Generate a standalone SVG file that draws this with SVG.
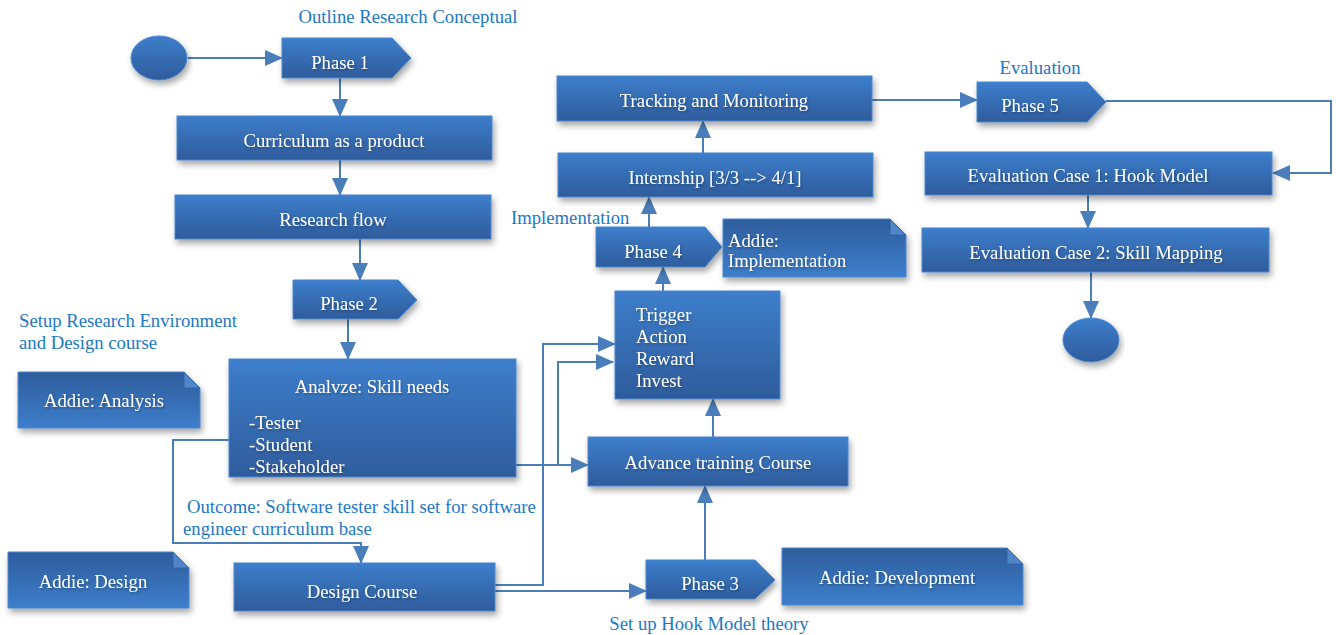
<svg xmlns="http://www.w3.org/2000/svg" width="1336" height="635" viewBox="0 0 1336 635">
<defs>
<linearGradient id="gBox" x1="0" y1="0" x2="0" y2="1">
<stop offset="0" stop-color="#3d7ecb"/>
<stop offset="1" stop-color="#2e5c9c"/>
</linearGradient>
<linearGradient id="gNote" x1="0" y1="0" x2="0" y2="1">
<stop offset="0" stop-color="#2e5d9d"/>
<stop offset="1" stop-color="#3d7ecb"/>
</linearGradient>
<filter id="sh" x="-10%" y="-20%" width="120%" height="160%">
<feDropShadow dx="2" dy="4" stdDeviation="3" flood-color="#000" flood-opacity="0.35"/>
</filter>
<filter id="tsh" x="-5%" y="-20%" width="110%" height="160%">
<feDropShadow dx="1" dy="1.5" stdDeviation="1" flood-color="#000" flood-opacity="0.3"/>
</filter>
<marker id="ah" markerUnits="userSpaceOnUse" markerWidth="18" markerHeight="18" viewBox="0 0 18 18" refX="17" refY="9" orient="auto">
<path d="M0,1 L18,9 L0,17 Z" fill="#4a7ebb"/>
</marker>
</defs>
<style>
.box{fill:url(#gBox);stroke:#4a86cf;stroke-width:1;filter:url(#sh)}
.note{fill:url(#gNote);stroke:#4a86cf;stroke-width:1;filter:url(#sh)}
.fold{fill:#4f86c9;stroke:#2e5d9d;stroke-width:0.8}
.t{font-family:"Liberation Serif","Times New Roman",serif;font-size:18.7px;fill:#ffffff;filter:url(#tsh)}
.c{text-anchor:middle}
.lbl{font-family:"Liberation Serif","Times New Roman",serif;font-size:18.7px;fill:#1b78c6}
.ln{fill:none;stroke:#4a7ebb;stroke-width:2}
.la{fill:none;stroke:#4a7ebb;stroke-width:2;marker-end:url(#ah)}
</style>

<g id="labels">
<text class="lbl c" x="408" y="23">Outline Research Conceptual</text>
<text class="lbl" x="19" y="327">Setup Research Environment</text>
<text class="lbl" x="19" y="349">and Design course</text>
<text class="lbl" x="187" y="513">Outcome: Software tester skill set for software</text>
<text class="lbl" x="183" y="535">engineer curriculum base</text>
<text class="lbl" x="511" y="224">Implementation</text>
<text class="lbl c" x="1040" y="74">Evaluation</text>
<text class="lbl c" x="709" y="630">Set up Hook Model theory</text>
</g>

<g id="connectors">
<line class="la" x1="188" y1="58" x2="282" y2="58"/>
<line class="la" x1="340" y1="78" x2="340" y2="116"/>
<line class="la" x1="340" y1="160" x2="340" y2="195"/>
<line class="la" x1="360" y1="239" x2="360" y2="280"/>
<line class="la" x1="348" y1="319" x2="348" y2="359"/>
<polyline class="la" points="229,440 173,440 173,543 361,543 361,563"/>
<polyline class="la" points="495,585 543,585 543,344 615,344"/>
<line class="la" x1="495" y1="591" x2="646" y2="591"/>
<line class="la" x1="516" y1="465" x2="588" y2="465"/>
<polyline class="la" points="558,465 558,362 613,362"/>
<line class="la" x1="705" y1="560" x2="705" y2="486"/>
<line class="la" x1="713" y1="437" x2="713" y2="399"/>
<line class="la" x1="663" y1="291" x2="663" y2="267"/>
<line class="la" x1="649" y1="227" x2="649" y2="197"/>
<line class="la" x1="703" y1="153" x2="703" y2="121"/>
<line class="la" x1="872" y1="100" x2="977" y2="100"/>
<polyline class="la" points="1106,101 1331,101 1331,173 1273,173"/>
<line class="la" x1="1088" y1="195" x2="1088" y2="228"/>
<line class="la" x1="1091" y1="272" x2="1091" y2="318"/>
</g>

<g id="start"><ellipse class="box" cx="159" cy="58" rx="28" ry="22"/></g>
<g id="phase1"><path class="box" d="M282,38 H392 L411,58 L392,78 H282 Z"/><text class="t c" x="340" y="69">Phase 1</text></g>
<g id="curriculum"><rect class="box" x="177" y="116" width="315" height="44"/><text class="t c" x="334" y="147">Curriculum as a product</text></g>
<g id="research-flow"><rect class="box" x="175" y="195" width="316" height="44"/><text class="t c" x="333" y="226">Research flow</text></g>
<g id="phase2"><path class="box" d="M293,280 H398 L417,300 L398,319 H293 Z"/><text class="t c" x="349" y="310">Phase 2</text></g>
<g id="addie-analysis"><path class="note" d="M18,372 H184 L200,388 V428 H18 Z"/><path class="fold" d="M184,372 L200,388 H184 Z"/><text class="t c" x="104" y="407">Addie: Analysis</text></g>
<g id="analyze"><rect class="box" x="229" y="359" width="287" height="118"/>
<text class="t c" x="372" y="393">Analvze: Skill needs</text>
<text class="t" x="249" y="429">-Tester</text>
<text class="t" x="249" y="451">-Student</text>
<text class="t" x="249" y="473">-Stakeholder</text></g>
<g id="addie-design"><path class="note" d="M8,552 H173 L189,568 V608 H8 Z"/><path class="fold" d="M173,552 L189,568 H173 Z"/><text class="t c" x="93" y="588">Addie: Design</text></g>
<g id="design-course"><rect class="box" x="234" y="563" width="261" height="48"/><text class="t c" x="362" y="598">Design Course</text></g>
<g id="phase3"><path class="box" d="M646,560 H755 L775,580 L755,599 H646 Z"/><text class="t c" x="710" y="590">Phase 3</text></g>
<g id="addie-development"><path class="note" d="M782,548 H1007 L1023,564 V605 H782 Z"/><path class="fold" d="M1007,548 L1023,564 H1007 Z"/><text class="t c" x="897" y="584">Addie: Development</text></g>
<g id="advance-training"><rect class="box" x="588" y="437" width="260" height="49"/><text class="t c" x="718" y="469">Advance training Course</text></g>
<g id="hook"><rect class="box" x="615" y="291" width="165" height="108"/>
<text class="t" x="636" y="321">Trigger</text>
<text class="t" x="636" y="343">Action</text>
<text class="t" x="636" y="365">Reward</text>
<text class="t" x="636" y="387">Invest</text></g>
<g id="phase4"><path class="box" d="M596,227 H705 L722,247 L705,267 H596 Z"/><text class="t c" x="653" y="258">Phase 4</text></g>
<g id="addie-implementation"><path class="note" d="M723,219 H890 L906,235 V277 H723 Z"/><path class="fold" d="M890,219 L906,235 H890 Z"/><text class="t" x="728" y="247">Addie:</text><text class="t" x="728" y="267">Implementation</text></g>
<g id="internship"><rect class="box" x="558" y="153" width="315" height="44"/><text class="t c" x="715" y="184">Internship [3/3 --&gt; 4/1]</text></g>
<g id="tracking"><rect class="box" x="557" y="76" width="315" height="45"/><text class="t c" x="714" y="107">Tracking and Monitoring</text></g>
<g id="phase5"><path class="box" d="M977,82 H1087 L1106,102 L1087,122 H977 Z"/><text class="t c" x="1030" y="112">Phase 5</text></g>
<g id="eval1"><rect class="box" x="925" y="152" width="347" height="43"/><text class="t c" x="1088" y="182">Evaluation Case 1: Hook Model</text></g>
<g id="eval2"><rect class="box" x="922" y="228" width="347" height="44"/><text class="t c" x="1096" y="259">Evaluation Case 2: Skill Mapping</text></g>
<g id="end"><ellipse class="box" cx="1091" cy="340" rx="28" ry="22"/></g>
</svg>
